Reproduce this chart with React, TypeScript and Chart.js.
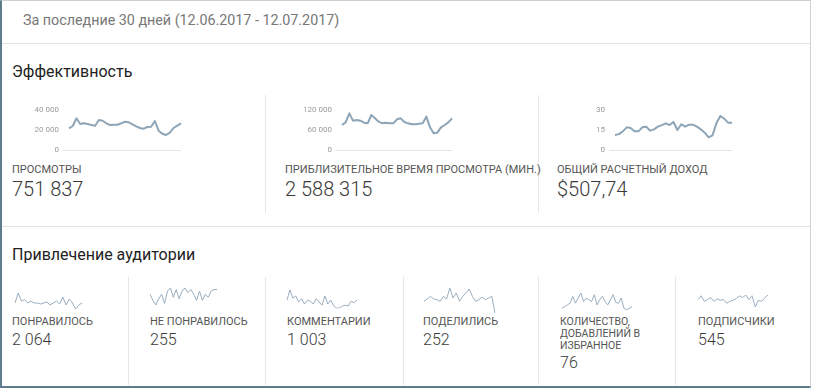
import React, { useEffect, useRef } from "react";
import { Chart, registerables } from "chart.js";
Chart.register(...registerables);

const DAYS = [
  "12.06", "13.06", "14.06", "15.06", "16.06", "17.06", "18.06", "19.06", "20.06", "21.06",
  "22.06", "23.06", "24.06", "25.06", "26.06", "27.06", "28.06", "29.06", "30.06", "01.07",
  "02.07", "03.07", "04.07", "05.07", "06.07", "07.07", "08.07", "09.07", "10.07", "11.07", "12.07",
];

const VIEWS = [21700, 24000, 31700, 26000, 26700, 26000, 25000, 24300, 30000, 29300, 26700, 25000, 25300, 25300, 26700, 28300, 27700, 25700, 23700, 22000, 21300, 23000, 23300, 29000, 19300, 16300, 15000, 17300, 22000, 24300, 26700];
const WATCH_MIN = [75000, 83000, 110000, 88000, 90000, 88000, 82000, 80000, 105000, 95000, 85000, 80000, 82000, 80000, 80000, 92000, 95000, 84000, 80000, 77000, 77000, 79000, 80000, 100000, 68000, 50000, 52000, 68000, 75000, 83000, 95000];
const REVENUE = [11.3, 11.9, 14, 17, 16.5, 14, 14, 17, 17.5, 14.5, 15.5, 17.5, 18.7, 20, 18.7, 21, 15, 19.3, 17.5, 19, 19, 17.5, 15.5, 13, 9.5, 11, 20, 25.5, 23.5, 20.5, 20.5];

const VIEWS_TICKS = ["0", "20 000", "40 000"];
const WATCH_TICKS = ["0", "60 000", "120 000"];
const REVENUE_TICKS = ["0", "15", "30"];
const VIEWS_MAX = 40000;
const WATCH_MAX = 120000;
const REVENUE_MAX = 30;

const LIKES = [64, 104, 72, 78, 64, 72, 64, 64, 60, 64, 68, 56, 64, 72, 60, 88, 56, 80, 64, 40, 56, 64];
const DISLIKES = [9, 5, 2, 6, 9, 3, 11, 13, 7, 12, 6, 11, 13, 10, 12, 9, 5, 11, 5, 9, 7, 11, 12, 12];
const COMMENTS = [35, 60, 40, 45, 30, 38, 25, 35, 32, 25, 38, 30, 22, 45, 25, 35, 20, 15, 15, 20, 22, 20, 32, 28, 35];
const SHARES = [9, 10.4, 12, 10.4, 10, 9, 12, 10.4, 17, 11, 14, 9, 12, 14, 16.4, 12, 9, 10, 11.6, 10, 11, 12, 2];
const FAVORITES = [2, 3, 4, 5, 9, 5, 8, 11, 6, 8, 7, 6, 10, 4, 7, 9, 6, 4, 7, 10, 5.4, 5, 8, 2, 1, 2, 3];
const SUBSCRIBERS = [25, 35, 20, 25, 30, 20, 27, 23, 25, 15, 20, 23, 27, 35, 30, 37, 25, 35, 5, 23, 20, 30, 37];

const FONT = "Roboto, 'Liberation Sans', Arial, sans-serif";

type SparkProps = {
  data: number[];
  left: number;
  top: number;
  width: number;
  height: number;
  max?: number;
  ticks?: string[];
  color: string;
  lineWidth: number;
};

function Spark({ data, left, top, width, height, max, ticks, color, lineWidth }: SparkProps) {
  const ref = useRef<HTMLCanvasElement | null>(null);
  useEffect(() => {
    if (!ref.current) return;
    const withAxis = max !== undefined && ticks !== undefined;
    const chart = new Chart(ref.current, {
      type: "line",
      data: {
        labels: DAYS.slice(0, data.length),
        datasets: [
          {
            data,
            borderColor: color,
            borderWidth: lineWidth,
            pointRadius: 0,
            tension: 0,
            fill: false,
            borderJoinStyle: "round",
          },
        ],
      },
      options: {
        animation: false,
        responsive: false,
        maintainAspectRatio: false,
        events: [],
        plugins: { legend: { display: false }, tooltip: { enabled: false } },
        layout: withAxis ? { padding: { top: 10, bottom: 9, left: 0, right: 2 } } : { padding: 1 },
        scales: withAxis
          ? {
              x: { display: false },
              y: {
                min: 0,
                max: max,
                ticks: {
                  stepSize: (max as number) / 2,
                  callback: (_v: any, i: number) => (ticks as string[])[i],
                  font: { size: 8, family: FONT },
                  color: "#9a9a9a",
                  padding: 4,
                },
                grid: {
                  drawTicks: true,
                  tickLength: 6,
                  color: (c: any) => (c.tick && c.tick.value === 0 ? "#e4e4e4" : "rgba(0,0,0,0)"),
                },
                border: { display: false },
                afterFit: (s: any) => {
                  s.width = 45;
                },
              },
            }
          : {
              x: { display: false },
              y: { display: false, bounds: "data" },
            },
      } as any,
    });
    return () => chart.destroy();
  }, []);
  return (
    <div style={{ position: "absolute", left, top, width, height }}>
      <canvas ref={ref} width={width} height={height} style={{ width, height, display: "block" }} />
    </div>
  );
}

function T({ x, y, size, color, lh, weight, children }: { x: number; y: number; size: number; color: string; lh?: number; weight?: number; children: React.ReactNode }) {
  const l = lh ?? Math.round(size * 1.25);
  return (
    <div
      style={{
        position: "absolute",
        left: x,
        top: y - l / 2,
        fontSize: size,
        lineHeight: l + "px",
        color,
        fontFamily: FONT,
        fontWeight: weight ?? 400,
        whiteSpace: "nowrap",
      }}
    >
      {children}
    </div>
  );
}

function VLine({ x, y1, y2 }: { x: number; y1: number; y2: number }) {
  return <div style={{ position: "absolute", left: x, top: y1, width: 1, height: y2 - y1, background: "#e6e6e6" }} />;
}

function HLine({ y }: { y: number }) {
  return <div style={{ position: "absolute", left: 2, top: y, width: 808, height: 1, background: "#e3e3e3" }} />;
}

export default function App() {
  const TOP_C = "#8da5b7";
  const BOT_C = "#9aaec0";
  const LBL = "#555555";
  const VAL = "#3a3a3a";
  return (
    <div style={{ position: "absolute", left: 0, top: 0, width: 813, height: 389, background: "#ffffff", overflow: "hidden" }}>
      <div
        style={{
          position: "absolute",
          left: 0,
          top: 0,
          width: 811,
          height: 388,
          boxSizing: "border-box",
          borderLeft: "2px solid #5f7c8c",
          borderBottom: "2px solid #5f7c8c",
          borderTop: "1px solid #c9cfd3",
          borderRight: "1px solid #d2d2d2",
          background: "#fff",
        }}
      />
      <T x={23} y={20} size={14.3} color="#777777">За последние 30 дней (12.06.2017 - 12.07.2017)</T>
      <HLine y={43} />
      <T x={12} y={72} size={16} color="#222222">Эффективность</T>

      <VLine x={265} y1={95} y2={213} />
      <VLine x={538} y1={95} y2={213} />

      <Spark data={VIEWS} left={24} top={100} width={159} height={59} max={VIEWS_MAX} ticks={VIEWS_TICKS} color={TOP_C} lineWidth={2} />
      <Spark data={WATCH_MIN} left={297} top={100} width={157} height={59} max={WATCH_MAX} ticks={WATCH_TICKS} color={TOP_C} lineWidth={2} />
      <Spark data={REVENUE} left={570} top={100} width={164} height={59} max={REVENUE_MAX} ticks={REVENUE_TICKS} color={TOP_C} lineWidth={2} />

      <T x={12} y={170} size={11} color={LBL}>ПРОСМОТРЫ</T>
      <T x={12} y={189} size={20} color={VAL} weight={300}>751 837</T>
      <T x={285} y={170} size={11} color={LBL}>ПРИБЛИЗИТЕЛЬНОЕ ВРЕМЯ ПРОСМОТРА (МИН.)</T>
      <T x={285} y={189} size={20} color={VAL} weight={300}>2 588 315</T>
      <T x={557} y={170} size={11} color={LBL}>ОБЩИЙ РАСЧЕТНЫЙ ДОХОД</T>
      <T x={557} y={189} size={20} color={VAL} weight={300}>$507,74</T>

      <HLine y={226} />
      <T x={12} y={255} size={16} color="#222222">Привлечение аудитории</T>

      <VLine x={128} y1={277} y2={385} />
      <VLine x={265} y1={277} y2={385} />
      <VLine x={403} y1={277} y2={385} />
      <VLine x={538} y1={277} y2={385} />
      <VLine x={675} y1={277} y2={385} />

      <Spark data={LIKES} left={14} top={292} width={69} height={18} color={BOT_C} lineWidth={1} />
      <Spark data={DISLIKES} left={149} top={287} width={69} height={19} color={BOT_C} lineWidth={1} />
      <Spark data={COMMENTS} left={286} top={289} width={72} height={20} color={BOT_C} lineWidth={1} />
      <Spark data={SHARES} left={423} top={287} width={73} height={27} color={BOT_C} lineWidth={1} />
      <Spark data={FAVORITES} left={561} top={292} width={72} height={19} color={BOT_C} lineWidth={1} />
      <Spark data={SUBSCRIBERS} left={697} top={294} width={72} height={14} color={BOT_C} lineWidth={1} />

      <T x={12} y={322} size={11} color={LBL}>ПОНРАВИЛОСЬ</T>
      <T x={12} y={340} size={16} color={VAL} weight={300}>2 064</T>
      <T x={150} y={322} size={11} color={LBL}>НЕ ПОНРАВИЛОСЬ</T>
      <T x={150} y={340} size={16} color={VAL} weight={300}>255</T>
      <T x={287} y={322} size={11} color={LBL}>КОММЕНТАРИИ</T>
      <T x={287} y={340} size={16} color={VAL} weight={300}>1 003</T>
      <T x={423} y={322} size={11} color={LBL}>ПОДЕЛИЛИСЬ</T>
      <T x={423} y={340} size={16} color={VAL} weight={300}>252</T>
      <T x={560} y={322} size={10.5} color={LBL} lh={12}>КОЛИЧЕСТВО,</T>
      <T x={560} y={334} size={10.5} color={LBL} lh={12}>ДОБАВЛЕНИЙ В</T>
      <T x={560} y={346} size={10.5} color={LBL} lh={12}>ИЗБРАННОЕ</T>
      <T x={560} y={363} size={16} color={VAL} weight={300}>76</T>
      <T x={698} y={322} size={11} color={LBL}>ПОДПИСЧИКИ</T>
      <T x={698} y={340} size={16} color={VAL} weight={300}>545</T>
    </div>
  );
}
